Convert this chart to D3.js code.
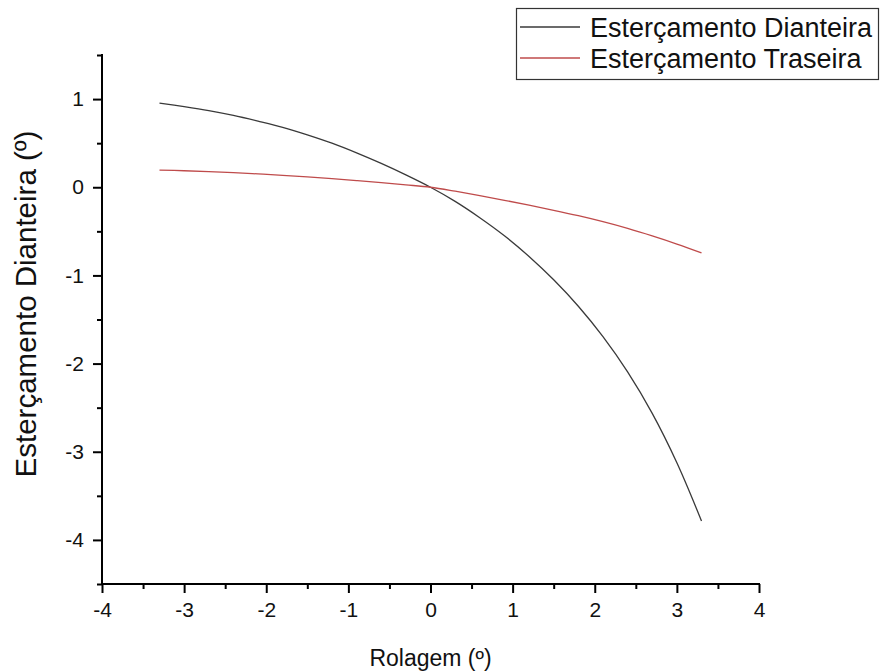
<!DOCTYPE html>
<html>
<head>
<meta charset="utf-8">
<script src="https://cdn.jsdelivr.net/npm/d3@7"></script>
<style>
  html, body { margin: 0; padding: 0; background: #fff; }
  svg { display: block; font-family: "Liberation Sans", Arial, sans-serif; }
</style>
</head>
<body>
<svg id="chart" width="883" height="672"></svg>
<script>
// Roll angle (º)
const rolagem = [-3.3, -3.0, -2.7, -2.4, -2.1, -1.8, -1.5, -1.2, -0.9, -0.6, -0.3, 0,
                 0.3, 0.6, 0.9, 1.2, 1.5, 1.8, 2.1, 2.4, 2.7, 3.0, 3.3];
// Front steer (º)
const esterDianteira = [0.955, 0.915, 0.87, 0.815, 0.75, 0.68, 0.595, 0.50, 0.39, 0.27, 0.14, 0,
                        -0.16, -0.345, -0.55, -0.785, -1.05, -1.35, -1.695, -2.095, -2.565, -3.125, -3.785];
// Rear steer (º)
const esterTraseira = [0.195, 0.187, 0.177, 0.165, 0.151, 0.135, 0.117, 0.097, 0.075, 0.052, 0.027, 0,
                       -0.045, -0.095, -0.148, -0.203, -0.261, -0.323, -0.391, -0.467, -0.552, -0.644, -0.744];

const seriesNames = ["Esterçamento Dianteira", "Esterçamento Traseira"];
const seriesColors = ["#3a3a3a", "#bf4b4b"];
const xTicks = [-4, -3, -2, -1, 0, 1, 2, 3, 4];
const yTicks = [-4, -3, -2, -1, 0, 1];
const xTitle = "Rolagem (º)";
const yTitle = "Esterçamento Dianteira (º)";

const svg = d3.select("#chart");
const plotL = 102, plotR = 759, plotT = 55, plotB = 584;

const x = d3.scaleLinear().domain([-4, 4]).range([plotL, plotR]);
const y = d3.scaleLinear().domain([-4.5, 1.5]).range([plotB, plotT]);

// Minor ticks every 0.5
const xMinor = d3.range(-3.5, 4, 1);
const yMinor = d3.range(-4.5, 1.6, 1);

// Plain hyphen-minus for negative labels
const fmt = d => String(d);

const axisStyle = g => {
  g.selectAll(".domain").attr("stroke", "#000").attr("stroke-width", 2);
  g.selectAll(".tick line").attr("stroke", "#000").attr("stroke-width", 2);
  g.selectAll("text").attr("fill", "#111").attr("font-size", 21)
    .attr("font-family", "'Liberation Sans', Arial, sans-serif");
};

// X axis
svg.append("g").attr("transform", `translate(0,${plotB})`)
  .call(d3.axisBottom(x).tickValues(xMinor).tickSize(5).tickFormat(""))
  .call(g => g.select(".domain").remove())
  .call(axisStyle);
svg.append("g").attr("transform", `translate(0,${plotB})`)
  .call(d3.axisBottom(x).tickValues(xTicks).tickSizeInner(9).tickSizeOuter(0).tickPadding(9).tickFormat(fmt))
  .call(axisStyle)
  .call(g => g.select(".domain").attr("d", `M${plotL - 1},0H${plotR + 1}`));

// Y axis
svg.append("g").attr("transform", `translate(${plotL},0)`)
  .call(d3.axisLeft(y).tickValues(yMinor).tickSize(5).tickFormat(""))
  .call(g => g.select(".domain").remove())
  .call(axisStyle);
svg.append("g").attr("transform", `translate(${plotL},0)`)
  .call(d3.axisLeft(y).tickValues(yTicks).tickSizeInner(9).tickSizeOuter(0).tickPadding(9).tickFormat(fmt))
  .call(axisStyle)
  .call(g => g.select(".domain").attr("d", `M0,${plotT - 1}V${plotB + 1}`));

// Axis titles
svg.append("text")
  .attr("x", (plotL + plotR) / 2).attr("y", 666)
  .attr("text-anchor", "middle").attr("font-size", 23).attr("fill", "#111")
  .text(xTitle);
svg.append("text")
  .attr("transform", `translate(36,304) rotate(-90)`)
  .attr("text-anchor", "middle").attr("font-size", 29.5).attr("fill", "#111")
  .text(yTitle);

// Curves
const line = d3.line().x(d => x(d[0])).y(d => y(d[1])).curve(d3.curveCatmullRom);
[esterDianteira, esterTraseira].forEach((vals, i) => {
  svg.append("path")
    .datum(rolagem.map((r, k) => [r, vals[k]]))
    .attr("fill", "none")
    .attr("stroke", seriesColors[i])
    .attr("stroke-width", 1.3)
    .attr("d", line);
});

// Legend
const lg = svg.append("g");
lg.append("rect").attr("x", 516.5).attr("y", 8.5).attr("width", 362).attr("height", 71)
  .attr("fill", "#fff").attr("stroke", "#333").attr("stroke-width", 1.2);
seriesNames.forEach((name, i) => {
  const cy = 27 + i * 31;
  lg.append("line").attr("x1", 520).attr("x2", 580).attr("y1", cy).attr("y2", cy)
    .attr("stroke", seriesColors[i]).attr("stroke-width", 1.3);
  lg.append("text").attr("x", 590).attr("y", cy + 10)
    .attr("font-size", 27).attr("fill", "#111").text(name);
});
</script>
</body>
</html>
